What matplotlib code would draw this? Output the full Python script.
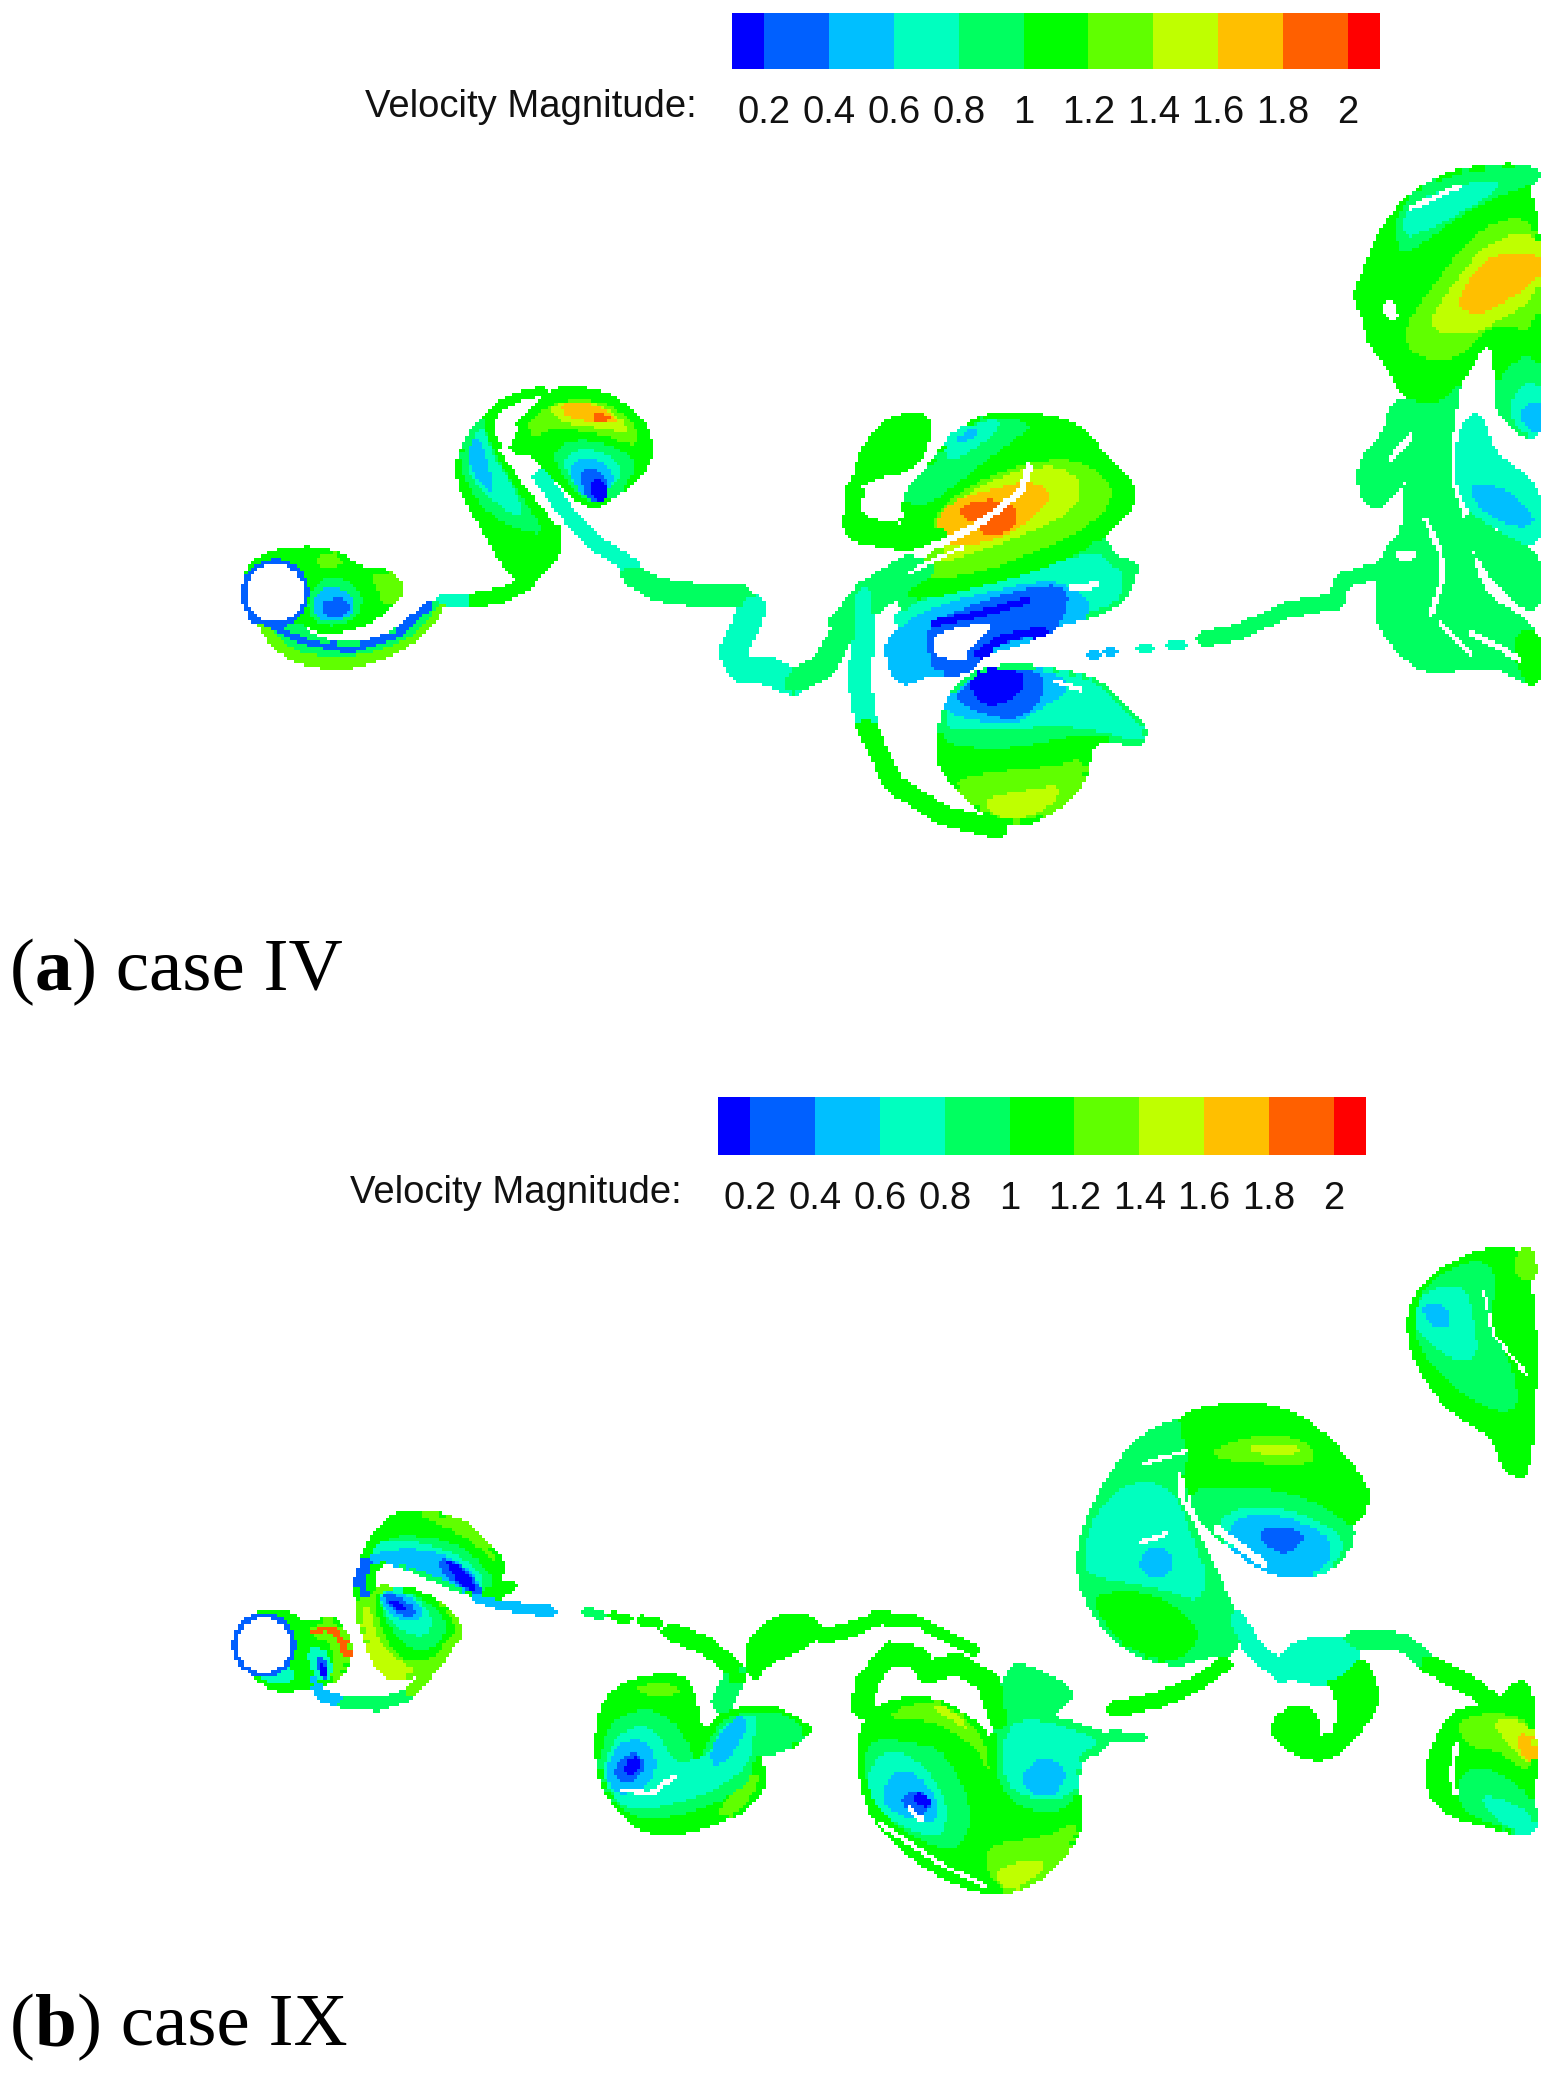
import numpy as np
import matplotlib
matplotlib.use('Agg')
import matplotlib.pyplot as plt
from matplotlib.colors import ListedColormap, BoundaryNorm
from matplotlib.path import Path

W, H = 1553, 2073
levels = [0.1, 0.2, 0.4, 0.6, 0.8, 1.0, 1.2, 1.4, 1.6, 1.8, 2.0, 2.1]
band_colors = ['#0000ff', '#0060ff', '#00bfff', '#00ffbf', '#00ff60', '#00ff00',
               '#60ff00', '#bfff00', '#ffbf00', '#ff6000', '#ff0000']
tick_values = [0.2, 0.4, 0.6, 0.8, 1.0, 1.2, 1.4, 1.6, 1.8, 2.0]
tick_labels = ['0.2', '0.4', '0.6', '0.8', '1', '1.2', '1.4', '1.6', '1.8', '2']
legend_title = 'Velocity Magnitude:'

# frames: origin x, origin y, scale x, scale y
Z1 = (220, 0, 0.765, 0.548)
Z2 = (780, 150, 0.493, 0.4464)
Z3 = (200, 1230, 0.4464, 0.4145)
Z4 = (820, 1230, 0.4675, 0.4337)

# polygons: (frame, velocity, outline); painted in order
case_iv_wake = [
 (Z1, 1.1, [(30,1060),(50,1015),(110,1000),(150,1008),(190,1045),(205,1040),(232,1050),(237,1085),(215,1115),(180,1145),(130,1152),(105,1130),(60,1130)]),
 (Z1, 1.3, [(125,1015),(150,1008),(165,1030),(130,1040)]),
 (Z1, 1.3, [(195,1045),(232,1050),(237,1085),(215,1110),(205,1075)]),
 (Z1, 0.9, [(125,1060),(160,1050),(190,1090),(175,1135),(130,1145),(112,1110)]),
 (Z1, 0.5, [(130,1075),(160,1070),(180,1105),(165,1130),(130,1135),(118,1105)]),
 (Z1, 0.3, [(135,1095),(165,1090),(170,1115),(150,1130),(135,1120)]),
 (Z1, 1.3, [(45,1120),(100,1135),(120,1165),(165,1180),(210,1170),(250,1130),(280,1097),(295,1097),(270,1150),(230,1190),(170,1218),(110,1212),(70,1180)]),
 (Z1, 0.9, [(50,1120),(100,1135),(120,1165),(165,1180),(210,1170),(250,1130),(280,1097),(290,1097),(262,1150),(225,1180),(170,1200),(110,1195),(80,1170)]),
 # S vortex, left arm
 (Z1, 1.1, [(440,705),(370,725),(320,800),(308,880),(360,1000),(385,1062),(420,1052),(445,1000),(440,950),(410,900),(375,840),(350,780),(370,735),(430,712)]),
 (Z1, 0.9, [(350,750),(318,810),(315,870),(350,940),(405,975),(425,970),(390,900),(360,830),(345,780)]),
 (Z1, 0.7, [(345,770),(322,820),(325,870),(365,925),(400,950),(385,890),(355,830)]),
 (Z1, 0.5, [(335,790),(320,830),(335,875),(360,905),(350,840)]),
 # S vortex, right spiral
 (Z1, 1.1, [(375,790),(410,745),(440,708),(500,715),(550,760),(566,820),(550,870),(520,900),(490,925),(465,910),(430,860),(405,820),(385,830)]),
 (Z1, 1.3, [(400,770),(440,730),(500,730),(540,770),(550,810),(530,810),(495,790),(430,780),(410,800)]),
 (Z1, 1.5, [(430,735),(490,730),(530,770),(535,790),(490,780),(440,770)]),
 (Z1, 1.7, [(445,735),(490,735),(525,770),(500,775),(450,760)]),
 (Z1, 1.9, [(488,752),(512,758),(506,772),(488,770)]),
 (Z1, 0.9, [(430,830),(460,800),(510,810),(545,840),(535,880),(500,920),(470,910)]),
 (Z1, 0.7, [(445,840),(470,815),(510,830),(530,860),(505,900),(470,900)]),
 (Z1, 0.5, [(455,850),(480,830),(510,850),(515,880),(495,910),(470,905)]),
 (Z1, 0.3, [(470,860),(490,850),(510,880),(500,915),(478,915)]),
 (Z1, 0.15,[(482,875),(500,875),(510,905),(490,920)]),
 # central vortex pair, lower band
 (Z2, 0.9, [(230,1000),(260,960),(400,950),(560,890),(660,870),(670,910),(725,930),(715,960),(695,1010),(640,1040),(560,1060),(400,1050),(280,1060)]),
 (Z2, 0.7, [(220,1050),(300,1000),(420,970),(560,920),(650,900),(670,930),(700,950),(690,1010),(630,1035),(570,1050),(400,1080),(300,1100)]),
 (Z2, 0.5, [(220,1090),(290,1030),(420,990),(550,960),(610,990),(640,1040),(560,1060),(500,1100),(390,1130),(380,1170),(300,1170),(245,1200),(222,1150)]),
 (Z2, 0.3, [(300,1060),(420,1005),(550,970),(590,990),(570,1070),(490,1095),(410,1120),(385,1170),(310,1170),(300,1120)]),
 # central vortex pair, upper
 (Z2, 1.1, [(240,810),(300,715),(350,640),(420,590),(530,595),(620,625),(655,690),(712,735),(715,800),(660,860),(600,910),(470,960),(330,1000),(255,1010),(260,950),(340,880),(290,860),(250,840)]),
 (Z2, 0.9, [(250,770),(330,680),(370,620),(440,595),(520,615),(460,660),(390,720),(310,790),(265,800)]),
 (Z2, 0.7, [(330,665),(365,625),(435,600),(450,620),(395,670),(345,700)]),
 (Z2, 0.5, [(350,650),(385,625),(410,620),(375,660)]),
 (Z2, 1.3, [(300,820),(400,740),(500,700),(600,690),(660,730),(680,780),(620,850),(520,900),(400,950),(290,960),(260,950),(340,880)]),
 (Z2, 1.5, [(310,820),(410,750),(500,710),(580,710),(620,760),(580,820),(500,860),(400,900),(320,930),(340,880)]),
 (Z2, 1.7, [(310,830),(360,780),(430,760),(500,740),(550,760),(540,800),(470,860),(380,890),(340,880)]),
 (Z2, 1.9, [(360,815),(380,790),(440,780),(490,810),(470,850),(420,870),(400,840)]),
 (Z2, 1.1, [(150,760),(160,690),(200,620),(250,595),(305,595),(295,670),(270,710),(215,725),(190,730)]),
 # central vortex, lower
 (Z2, 1.1, [(320,1340),(340,1230),(390,1170),(480,1155),(570,1170),(650,1190),(710,1260),(740,1290),(735,1335),(650,1310),(625,1350),(620,1410),(570,1470),(500,1510),(430,1500),(370,1440),(330,1390)]),
 (Z2, 1.3, [(350,1410),(450,1390),(560,1380),(620,1360),(615,1415),(570,1470),(500,1505),(430,1495),(380,1450)]),
 (Z2, 1.5, [(410,1450),(500,1435),(570,1420),(560,1460),(500,1500),(430,1495)]),
 (Z2, 0.9, [(320,1320),(340,1230),(390,1170),(480,1155),(570,1170),(650,1190),(710,1260),(740,1290),(735,1335),(650,1310),(600,1310),(480,1340),(380,1340)]),
 (Z2, 0.7, [(330,1290),(350,1220),(395,1175),(480,1158),(570,1170),(650,1195),(700,1260),(735,1290),(730,1330),(650,1300),(550,1290),(460,1300),(370,1300)]),
 (Z2, 0.5, [(335,1260),(350,1220),(395,1175),(480,1158),(570,1175),(590,1210),(530,1250),(470,1290),(400,1280)]),
 (Z2, 0.3, [(350,1230),(395,1175),(480,1160),(540,1175),(530,1235),(480,1280),(400,1260)]),
 (Z2, 0.15,[(385,1185),(430,1160),(500,1170),(490,1220),(430,1250),(390,1225)]),
 # right structure
 (Z2, 0.9, [(1240,560),(1340,560),(1380,500),(1360,620),(1350,730),(1390,860),(1420,1000),(1540,1070),(1540,1200),(1500,1180),(1440,1150),(1380,1160),(1300,1170),(1220,1080),(1210,1000),(1225,900),(1270,850),(1265,790),(1280,710),(1240,780),(1190,810),(1170,700),(1230,640)]),
 (Z2, 0.7, [(1390,600),(1425,595),(1440,680),(1540,750),(1540,900),(1450,840),(1390,800),(1370,700)]),
 (Z2, 0.5, [(1390,740),(1480,760),(1540,830),(1500,850),(1420,810)]),
 (Z2, 0.9, [(1380,800),(1450,860),(1540,900),(1540,1040),(1480,1000),(1420,920)]),
 (Z2, 1.1, [(1480,1085),(1540,1070),(1540,1205),(1500,1180)]),
 (Z2, 1.1, [(1165,330),(1190,265),(1220,180),(1280,95),(1390,40),(1540,35),(1540,640),(1460,560),(1445,400),(1380,520),(1340,570),(1270,560),(1240,490),(1195,430),(1190,380)]),
 (Z2, 0.9, [(1250,150),(1290,90),(1390,45),(1540,40),(1540,70),(1420,120),(1340,180),(1260,240),(1250,190)]),
 (Z2, 0.7, [(1260,160),(1290,110),(1400,70),(1480,70),(1400,130),(1310,180),(1270,200)]),
 (Z2, 1.3, [(1260,400),(1340,280),(1420,170),(1540,140),(1540,420),(1450,380),(1380,470),(1290,470)]),
 (Z2, 1.5, [(1300,400),(1380,280),(1430,210),(1540,170),(1540,330),(1460,380),(1400,420)]),
 (Z2, 1.7, [(1365,350),(1420,250),(1470,230),(1540,230),(1540,290),(1470,340),(1420,370)]),
 (Z2, 0.9, [(1540,440),(1460,500),(1450,560),(1480,620),(1540,650)]),
 (Z2, 0.7, [(1540,500),(1475,560),(1490,620),(1540,650)]),
 (Z2, 0.5, [(1540,550),(1490,590),(1540,650)]),
]

case_iv_strokes = [
 (Z1, 0.3, 4, [(45,1125),(80,1150),(110,1170),(170,1188),(230,1160),(275,1105)]),
 (Z1, 0.7, 4, [(290,1097),(330,1097)]),
 (Z1, 1.1, 7, [(330,1097),(370,1085),(400,1065)]),
 (Z1, 0.7, 9, [(420,870),(450,930),(490,990),(540,1035)]),
 (Z1, 0.8, 15, [(540,1050),(570,1075),(620,1085),(680,1085),(695,1110)]),
 (Z1, 0.75, 20, [(695,1110),(685,1150),(670,1190),(680,1220),(720,1225),(750,1245)]),
 (Z1, 0.9, 17, [(750,1245),(790,1215),(815,1150),(860,1090),(920,1040)]),
 (Z2, 1.1, 18, [(150,830),(160,850),(230,865),(320,870)]),
 (Z2, 1.1, 10, [(150,760),(148,830)]),
 (Z2, 0.9, 13, [(120,1060),(170,990),(260,930)]),
 (Z2, 0.75, 14, [(170,1000),(170,1100),(160,1180),(175,1290)]),
 (Z2, 1.1, 12, [(175,1290),(230,1420),(330,1490),(440,1520)]),
 (Z2, 0.15, 5, [(310,1060),(400,1040),(500,1010)]),
 (Z2, 0.15, 6, [(400,1130),(450,1095),(530,1075)]),
 (Z2, 0.5, 1, [(630,1132),(645,1130)]),
 (Z2, 0.5, 1, [(665,1125),(680,1122)]),
 (Z2, 0.7, 1, [(725,1120),(750,1115)]),
 (Z2, 0.7, 2, [(790,1110),(815,1108)]),
 (Z2, 0.9, 8, [(860,1095),(930,1080),(1030,1030),(1130,1010),(1140,965),(1220,940)]),
]

case_iv_gaps = [
 (Z2, 5, [(505,710),(490,760),(450,800),(400,840),(340,875),(280,900)]),
 (Z2, 2, [(370,890),(300,925),(260,950)]),
 (Z2, 5, [(590,980),(640,975)]),
 (Z2, 3, [(1310,830),(1340,900),(1345,960),(1320,1040)]),
 (Z2, 4, [(1240,690),(1280,640)]),
 (Z2, 4, [(1400,1080),(1500,1140)]),
 (Z2, 3, [(1340,1060),(1400,1130)]),
 (Z2, 3, [(1280,130),(1380,80)]),
 (Z2, 2, [(560,1190),(610,1210)]),
 (Z1, 5, [(385,780),(370,820),(400,880),(440,950)]),
]

case_iv_holes = [
 (Z2, [(175,740),(225,735),(240,790),(260,830),(180,825)]),
 (Z2, [(310,1080),(430,1055),(420,1080),(380,1120),(380,1145),(310,1135)]),
 (Z2, [(1220,340),(1250,340),(1255,385),(1225,375)]),
 (Z2, [(1250,895),(1290,895),(1290,920),(1250,920)]),
]

case_ix_wake = [
 (Z3, 1.1, [(85,990),(100,945),(130,925),(210,925),(240,960),(290,935),(320,960),(337,1020),(310,1085),(270,1090),(240,1100),(170,1110),(120,1075),(90,1040)]),
 (Z3, 0.3, [(190,950),(205,960),(195,1040),(180,1060),(185,1000)]),
 (Z3, 0.7, [(110,1050),(200,1040),(215,1090),(170,1095),(130,1080)]),
 (Z3, 1.3, [(240,965),(290,935),(325,970),(337,1020),(310,1080),(290,1085),(300,1000),(260,985)]),
 (Z3, 1.9, [(245,965),(300,950),(325,990),(337,1030),(320,1030),(300,965),(250,975)]),
 (Z3, 0.7, [(235,1010),(280,1005),(300,1060),(290,1085),(255,1085)]),
 (Z3, 0.3, [(260,1030),(280,1030),(290,1080),(270,1085)]),
 (Z3, 0.15,[(265,1045),(278,1045),(285,1075),(272,1078)]),
 (Z3, 1.3, [(355,900),(400,860),(440,870),(510,880),(575,935),(580,990),(540,1030),(490,1075),(420,1075),(390,1040),(370,980),(355,930)]),
 (Z3, 1.5, [(360,920),(380,900),(400,1000),(460,1050),(490,1060),(450,1080),(410,1075),(385,1030)]),
 (Z3, 1.1, [(385,895),(420,860),(510,880),(570,935),(570,990),(510,1040),(460,1040),(420,1000)]),
 (Z3, 0.9, [(395,890),(420,865),(500,885),(555,945),(540,1000),(480,1020),(430,970)]),
 (Z3, 0.7, [(400,880),(420,865),(490,885),(525,945),(500,985),(450,965),(415,930)]),
 (Z3, 0.5, [(400,885),(420,870),(480,885),(505,930),(470,950),(425,925)]),
 (Z3, 0.3, [(405,880),(425,875),(480,905),(480,940),(440,925)]),
 (Z3, 0.15,[(415,890),(450,895),(470,925),(440,915)]),
 (Z3, 1.1, [(355,850),(370,770),(420,690),(500,680),(590,705),(650,760),(680,810),(660,860),(700,850),(710,860),(650,895),(570,860),(460,810),(410,795),(385,830),(390,880),(350,890)]),
 (Z3, 1.3, [(480,685),(540,690),(600,710),(650,770),(670,810),(640,780),(580,730)]),
 (Z3, 0.9, [(420,735),(520,740),(600,770),(650,830),(660,860),(600,880),(460,810),(410,795)]),
 (Z3, 0.7, [(380,770),(420,745),(510,755),(590,790),(640,840),(620,875),(540,840),(460,810),(400,790)]),
 (Z3, 0.5, [(370,790),(420,770),(510,770),(580,800),(630,850),(610,880),(540,840),(460,810),(410,795),(385,815)]),
 (Z3, 0.3, [(530,790),(580,800),(625,855),(640,885),(600,870),(545,835)]),
 (Z3, 0.15,[(545,790),(580,810),(620,860),(610,875),(570,840)]),
 # first shed pair
 (Z3, 1.1, [(890,1250),(900,1140),(960,1090),(1050,1075),(1100,1090),(1115,1200),(1130,1210),(1170,1170),(1230,1155),(1290,1155),(1350,1190),(1370,1210),(1320,1250),(1240,1265),(1270,1320),(1235,1390),(1150,1430),(1050,1460),(980,1440),(930,1390),(900,1330)]),
 (Z3, 1.3, [(970,1100),(1050,1090),(1085,1120),(1000,1125)]),
 (Z3, 1.3, [(1180,1370),(1260,1290),(1230,1390),(1150,1425)]),
 (Z3, 0.9, [(895,1290),(910,1190),(990,1150),(1060,1180),(1100,1250),(1110,1290),(1140,1230),(1180,1170),(1290,1155),(1365,1210),(1320,1250),(1240,1265),(1240,1320),(1170,1380),(1050,1420),(970,1420),(920,1370)]),
 (Z3, 0.7, [(900,1300),(930,1220),(990,1190),(1040,1230),(1060,1290),(1140,1270),(1170,1190),(1250,1160),(1240,1230),(1230,1290),(1160,1350),(1050,1390),(960,1400),(920,1360)]),
 (Z3, 0.5, [(905,1310),(935,1240),(985,1225),(1020,1260),(1020,1320),(970,1360),(930,1360)]),
 (Z3, 0.5, [(1140,1250),(1200,1170),(1230,1180),(1200,1260),(1150,1300)]),
 (Z3, 0.3, [(925,1300),(965,1255),(1000,1280),(985,1325),(940,1335)]),
 (Z3, 0.15,[(945,1295),(975,1265),(990,1290),(965,1320)]),
 (Z3, 1.0, [(1220,1020),(1260,950),(1340,925),(1400,960),(1350,1010),(1270,1040),(1240,1090)]),
 # second shed vortex
 (Z4, 1.1, [(85,1150),(130,1090),(250,1080),(350,1150),(370,1200),(400,1000),(450,1010),(545,1060),(510,1110),(470,1120),(610,1160),(620,1190),(550,1220),(550,1320),(560,1370),(520,1450),(450,1510),(380,1530),(300,1510),(200,1450),(120,1370),(90,1280)]),
 (Z4, 0.9, [(400,1000),(450,1010),(545,1060),(510,1110),(470,1120),(610,1160),(620,1190),(550,1220),(550,1320),(480,1350),(390,1310),(370,1200)]),
 (Z4, 0.7, [(390,1160),(440,1120),(570,1160),(600,1185),(550,1210),(550,1300),(470,1320),(390,1280)]),
 (Z4, 0.5, [(420,1270),(470,1210),(530,1240),(510,1300),(470,1310)]),
 (Z4, 1.3, [(340,1420),(480,1400),(560,1360),(520,1450),(450,1510),(380,1530)]),
 (Z4, 1.5, [(370,1480),(440,1450),(490,1460),(440,1510),(390,1520)]),
 (Z4, 1.3, [(140,1130),(180,1095),(260,1085),(350,1160),(365,1260),(340,1200),(250,1130)]),
 (Z4, 1.5, [(230,1095),(270,1095),(330,1160),(280,1130)]),
 (Z4, 0.9, [(85,1250),(110,1170),(190,1180),(270,1200),(330,1340),(300,1430),(240,1420),(150,1370)]),
 (Z4, 0.7, [(95,1270),(130,1200),(200,1210),(270,1300),(270,1390),(230,1400),(130,1350)]),
 (Z4, 0.5, [(130,1320),(150,1250),(210,1250),(260,1330),(240,1370),(170,1350)]),
 (Z4, 0.3, [(170,1310),(205,1285),(240,1320),(225,1350),(190,1340)]),
 (Z4, 0.15,[(190,1310),(215,1295),(240,1320),(225,1335)]),
 # middle vortex
 (Z4, 0.9, [(550,780),(570,670),(620,570),(680,480),(780,430),(790,520),(770,620),(835,770),(885,880),(895,975),(835,975),(760,1005),(650,965),(580,880)]),
 (Z4, 0.7, [(560,760),(590,640),(680,570),(760,600),(800,720),(830,800),(810,860),(740,830),(640,810),(580,800)]),
 (Z4, 0.5, [(675,770),(710,725),(755,745),(750,790),(710,810)]),
 (Z4, 1.1, [(570,850),(640,830),(720,840),(800,900),(810,950),(760,1000),(650,965)]),
 (Z4, 1.1, [(760,430),(860,405),(960,405),(1060,450),(1150,560),(1175,620),(1140,690),(1040,650),(900,610),(800,620),(770,580),(790,520)]),
 (Z4, 1.3, [(830,510),(930,470),(1040,480),(1070,540),(950,540),(860,530)]),
 (Z4, 1.5, [(900,500),(1000,490),(1040,515),(950,520)]),
 (Z4, 0.9, [(790,600),(850,590),(1000,600),(1100,650),(1150,700),(1090,790),(980,800),(880,730),(820,680)]),
 (Z4, 0.7, [(850,660),(940,630),(1050,660),(1130,715),(1090,790),(980,800),(860,720)]),
 (Z4, 0.5, [(880,670),(950,650),(1050,680),(1100,720),(1080,790),(980,800),(870,730)]),
 (Z4, 0.3, [(930,695),(990,680),(1045,705),(1000,750),(960,735)]),
 # curl
 (Z4, 1.1, [(985,1010),(1060,1040),(1110,1050),(1110,1160),(1070,1170),(1075,1215),(1120,1200),(1170,1130),(1195,1080),(1170,1000),(1140,990),(1100,1020)]),
 (Z4, 0.7, [(985,985),(1030,945),(1140,945),(1150,1000),(1100,1040),(1050,1045),(990,1020)]),
 (Z4, 1.1, [(965,1150),(990,1110),(1040,1100),(1065,1130),(1060,1170),(1090,1220),(1040,1215),(990,1190)]),
 # right blobs
 (Z4, 1.1, [(1525,1040),(1480,1050),(1440,1100),(1360,1110),(1330,1150),(1295,1250),(1320,1340),(1430,1370),(1525,1400)]),
 (Z4, 1.3, [(1360,1130),(1440,1110),(1525,1130),(1525,1260),(1450,1200),(1380,1190)]),
 (Z4, 1.5, [(1430,1130),(1525,1130),(1525,1250),(1460,1170)]),
 (Z4, 1.7, [(1480,1165),(1525,1160),(1525,1250)]),
 (Z4, 0.9, [(1360,1260),(1420,1230),(1525,1300),(1525,1400),(1440,1370),(1370,1340)]),
 (Z4, 0.7, [(1400,1290),(1525,1340),(1525,1400),(1450,1370)]),
 (Z4, 1.1, [(1260,200),(1290,120),(1400,50),(1525,40),(1525,560),(1470,565),(1440,470),(1350,420),(1290,330),(1265,260)]),
 (Z4, 0.9, [(1265,230),(1290,125),(1400,60),(1450,100),(1430,220),(1490,330),(1490,430),(1400,400),(1310,320)]),
 (Z4, 0.7, [(1270,200),(1290,140),(1380,120),(1400,210),(1410,300),(1350,300),(1280,240)]),
 (Z4, 0.5, [(1285,170),(1340,165),(1350,230),(1300,220)]),
 (Z4, 1.3, [(1490,50),(1525,45),(1525,130),(1480,100)]),
]

case_ix_strokes = [
 (Z3, 0.5, 4, [(255,1085),(270,1120),(320,1140)]),
 (Z3, 0.9, 5, [(320,1140),(400,1145),(470,1120)]),
 (Z3, 1.3, 5, [(470,1120),(530,1040),(570,980)]),
 (Z3, 0.3, 6, [(375,800),(360,850),(370,880)]),
 (Z3, 0.5, 3, [(620,885),(680,905),(740,915),(790,920)]),
 (Z3, 0.9, 1, [(865,922),(900,930)]),
 (Z3, 1.0, 1, [(925,932),(960,940)]),
 (Z3, 1.0, 2, [(990,942),(1030,950)]),
 (Z3, 0.9, 14, [(1170,1140),(1200,1070)]),
 (Z3, 1.0, 11, [(1055,970),(1130,1000),(1190,1050),(1200,1080)]),
 (Z3, 1.0, 4, [(1400,985),(1470,965),(1510,935),(1560,940)]),
 (Z4, 1.1, 5, [(0,935),(60,920),(130,895),(200,900)]),
 (Z4, 1.1, 4, [(220,910),(330,970)]),
 (Z4, 1.1, 14, [(90,1100),(100,1040),(150,975),(210,985),(230,1020),(290,1000),(360,1040),(385,1130)]),
 (Z4, 1.05, 8, [(630,1105),(720,1085),(800,1050),(865,1000)]),
 (Z4, 0.9, 2, [(620,1165),(690,1170)]),
 (Z4, 0.7, 12, [(890,900),(930,970),(990,1020)]),
 (Z4, 0.9, 11, [(1140,945),(1250,950),(1300,1000)]),
 (Z4, 1.1, 12, [(1300,1000),(1390,1050),(1440,1090)]),
]

case_ix_gaps = [
 (Z4, 2, [(130,1370),(200,1420),(270,1470),(350,1510)]),
 (Z4, 3, [(190,1335),(220,1360)]),
 (Z4, 2, [(690,540),(780,510)]),
 (Z4, 3, [(770,560),(775,620),(820,700),(890,790),(945,880)]),
 (Z4, 6, [(850,690),(950,770)]),
 (Z4, 1, [(1420,140),(1440,240),(1510,330)]),
 (Z4, 3, [(1360,1190),(1350,1260),(1360,1300)]),
 (Z4, 3, [(690,720),(740,700)]),
 (Z3, 3, [(950,1350),(1010,1360),(1060,1320)]),
]

cylinder_a = (275, 593, 29)
cylinder_b = (264, 1645, 27)
cylinder_v = 0.3

# rendering grid
cell = 3.3
xe = np.arange(0, W + cell, cell)
ye = np.arange(0, H + cell, cell)
xc, yc = np.meshgrid((xe[:-1] + xe[1:]) / 2, (ye[:-1] + ye[1:]) / 2)
cells = np.column_stack([xc.ravel(), yc.ravel()])
field = np.full(xc.shape, np.nan)


def to_px(frame, pts):
    ox, oy, sx, sy = frame
    p = np.asarray(pts, float)
    return np.column_stack([ox + p[:, 0] * sx, oy + p[:, 1] * sy])


def rounded(p, n=2):
    for _ in range(n):
        q = np.roll(p, -1, axis=0)
        a, b = 0.75 * p + 0.25 * q, 0.25 * p + 0.75 * q
        p = np.column_stack([a, b]).reshape(-1, 2)
    return p


def paint_poly(frame, v, pts):
    mask = Path(rounded(to_px(frame, pts))).contains_points(cells).reshape(field.shape)
    field[mask] = v


def paint_line(frame, v, width, pts):
    p = to_px(frame, pts)
    for a, b in zip(p[:-1], p[1:]):
        d = b - a
        t = np.clip(((xc - a[0]) * d[0] + (yc - a[1]) * d[1]) / max((d ** 2).sum(), 1e-6), 0, 1)
        dist = np.hypot(xc - a[0] - t * d[0], yc - a[1] - t * d[1])
        field[dist <= width / 2 + 1.0] = v


def paint_ring(cyl, v):
    cx, cy, r = cyl
    dist = np.hypot(xc - cx, yc - cy)
    field[dist < r] = np.nan
    field[(dist >= r) & (dist < r + 5)] = v


def grow_once():
    src = field.copy()
    for dx, dy in ((1, 0), (-1, 0), (0, 1), (0, -1)):
        moved = np.roll(np.roll(src, dx, axis=1), dy, axis=0)
        hole = np.isnan(field) & ~np.isnan(moved)
        field[hole] = moved[hole]


for f, v, pts in case_iv_wake + case_ix_wake:
    paint_poly(f, v, pts)
for f, v, w, pts in case_iv_strokes + case_ix_strokes:
    paint_line(f, v, w, pts)
grow_once()
field[:, xc[0] > 1540] = np.nan
for f, w, pts in case_iv_gaps + case_ix_gaps:
    paint_line(f, np.nan, w, pts)
for f, pts in case_iv_holes:
    paint_poly(f, np.nan, pts)
paint_ring(cylinder_a, cylinder_v)
paint_ring(cylinder_b, cylinder_v)

cmap = ListedColormap(band_colors)
cmap.set_bad('white')
norm = BoundaryNorm(levels, cmap.N)

fig = plt.figure(figsize=(W / 100, H / 100), dpi=100, facecolor='white')
ax = fig.add_axes([0, 0, 1, 1])
ax.set_xlim(0, W)
ax.set_ylim(H, 0)
ax.axis('off')
ax.pcolormesh(xe, ye, np.ma.masked_invalid(field), cmap=cmap, norm=norm, shading='flat', rasterized=True)

sans = ['Liberation Sans', 'DejaVu Sans']


def colorbar(x0, x1, y0, y1, title_x):
    cax = fig.add_axes([x0 / W, 1 - y1 / H, (x1 - x0) / W, (y1 - y0) / H])
    cax.pcolormesh(levels, [0, 1], np.array([[(a + b) / 2 for a, b in zip(levels[:-1], levels[1:])]]), cmap=cmap, norm=norm)
    cax.set_xlim(levels[0], levels[-1])
    cax.set_yticks([])
    cax.set_xticks(tick_values)
    cax.set_xticklabels(tick_labels, family=sans, fontsize=27.5, color='#111111')
    cax.tick_params(axis='x', length=0, pad=19)
    for s in cax.spines.values():
        s.set_visible(False)
    ax.text(title_x, y1 + 38, legend_title, family=sans, fontsize=27.5, color='#111111', va='center', ha='left')


colorbar(732, 1380, 13, 69, 365)
colorbar(718, 1366, 1097, 1155, 350)


def caption(x, y, letter, rest):
    fig.canvas.draw()
    r = fig.canvas.get_renderer()
    fam = ['Liberation Serif', 'DejaVu Serif']
    for s, w in (('(', 'normal'), (letter, 'bold'), (') ' + rest, 'normal')):
        t = ax.text(x, y, s, family=fam, fontsize=54, fontweight=w, color='black', va='baseline', ha='left')
        x += t.get_window_extent(r).width


caption(10, 990, 'a', 'case IV')
caption(10, 2045, 'b', 'case IX')

fig.savefig('out.png', dpi=100, facecolor='white')
